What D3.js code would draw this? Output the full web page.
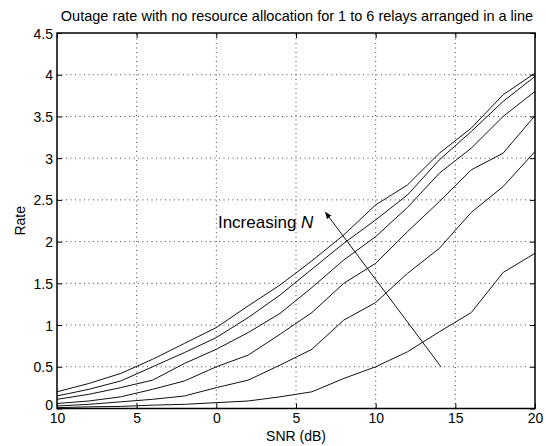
<!DOCTYPE html>
<html lang="en">
  <head>
    <meta charset="utf-8" />
    <title>Outage rate</title>
    <script type="text/javascript" src="https://cdn.jsdelivr.net/npm/d3@7"></script>
    <style type="text/css">
body { margin: 0; background: white; }
svg text { font-family: "Liberation Sans", Arial, sans-serif; fill: #000; }
    </style>
  </head>
  <body>
    <script type="text/javascript">
// SNR points (dB) and rate for N = 1..6 relays
var snr = [-10, -8, -6, -4, -2, 0, 2, 4, 6, 8, 10, 12, 14, 16, 18, 20];
var rateN1 = [0.01, 0.02, 0.025, 0.04, 0.05, 0.07, 0.09, 0.14, 0.20, 0.36, 0.50, 0.68, 0.92, 1.15, 1.63, 1.86];
var rateN2 = [0.03, 0.05, 0.08, 0.11, 0.15, 0.25, 0.34, 0.52, 0.71, 1.06, 1.27, 1.62, 1.92, 2.35, 2.66, 3.08];
var rateN3 = [0.06, 0.09, 0.14, 0.23, 0.33, 0.50, 0.64, 0.89, 1.15, 1.50, 1.74, 2.12, 2.48, 2.86, 3.06, 3.51];
var rateN4 = [0.11, 0.17, 0.25, 0.34, 0.54, 0.71, 0.91, 1.14, 1.45, 1.78, 2.06, 2.41, 2.82, 3.12, 3.50, 3.80];
var rateN5 = [0.15, 0.23, 0.33, 0.50, 0.67, 0.85, 1.09, 1.36, 1.67, 1.98, 2.26, 2.56, 2.98, 3.32, 3.68, 3.98];
var rateN6 = [0.20, 0.30, 0.42, 0.59, 0.78, 0.97, 1.23, 1.48, 1.77, 2.08, 2.44, 2.68, 3.06, 3.36, 3.76, 4.02];

var xTicks = [-10, -5, 0, 5, 10, 15, 20];
var xTickLabels = ["10", "5", "0", "5", "10", "15", "20"];
var yTicks = [0, 0.5, 1, 1.5, 2, 2.5, 3, 3.5, 4, 4.5];
var yTickLabels = ["0", "0.5", "1", "1.5", "2", "2.5", "3", "3.5", "4", "4.5"];

// annotation arrow: tail and head in data units
var arrowFrom = [14.1, 0.5];
var arrowTo = [6.85, 2.35];

var w = 546;
var h = 446;
var pad = { left: 57, right: 11, top: 33, bottom: 37.5 };

var series = [rateN1, rateN2, rateN3, rateN4, rateN5, rateN6];

var svg = d3.select("body")
            .append("svg")
            .attr("width", w)
            .attr("height", h);

var xScale = d3.scaleLinear()
               .domain([-10, 20])
               .range([pad.left, w - pad.right]);
var yScale = d3.scaleLinear()
               .domain([0, 4.5])
               .range([h - pad.bottom, pad.top]);

// dotted grid
var grid = svg.append("g").attr("id", "grid");
grid.selectAll("line.gx")
    .data(xTicks.slice(1, -1))
    .enter()
    .append("line")
    .attr("x1", function(d) { return xScale(d); })
    .attr("x2", function(d) { return xScale(d); })
    .attr("y1", yScale(0))
    .attr("y2", yScale(4.5))
    .attr("stroke", "#444")
    .attr("stroke-width", 1)
    .attr("stroke-dasharray", "1,3.5");
grid.selectAll("line.gy")
    .data(yTicks.slice(1, -1))
    .enter()
    .append("line")
    .attr("x1", xScale(-10))
    .attr("x2", xScale(20))
    .attr("y1", function(d) { return yScale(d); })
    .attr("y2", function(d) { return yScale(d); })
    .attr("stroke", "#444")
    .attr("stroke-width", 1)
    .attr("stroke-dasharray", "1,3.5");

// curves
var line = d3.line()
             .x(function(d, i) { return xScale(snr[i]); })
             .y(function(d) { return yScale(d); });
svg.append("g")
   .attr("id", "curves")
   .selectAll("path")
   .data(series)
   .enter()
   .append("path")
   .attr("d", line)
   .attr("fill", "none")
   .attr("stroke", "#111")
   .attr("stroke-width", 1);

// axes with inward ticks on all four sides
var tickLen = 5;
var xAxis = d3.axisBottom(xScale)
              .tickValues(xTicks)
              .tickSize(-tickLen)
              .tickPadding(5)
              .tickFormat(function(d, i) { return xTickLabels[i]; });
var yAxis = d3.axisLeft(yScale)
              .tickValues(yTicks)
              .tickSize(-tickLen)
              .tickPadding(4)
              .tickFormat(function(d, i) { return yTickLabels[i]; });

var gx = svg.append("g")
            .attr("transform", "translate(0," + yScale(0) + ")")
            .call(xAxis);
var gy = svg.append("g")
            .attr("transform", "translate(" + xScale(-10) + ",0)")
            .call(yAxis);
svg.append("g")
   .attr("transform", "translate(0," + yScale(4.5) + ")")
   .call(d3.axisTop(xScale).tickValues(xTicks).tickSize(-tickLen).tickFormat(""));
svg.append("g")
   .attr("transform", "translate(" + xScale(20) + ",0)")
   .call(d3.axisRight(yScale).tickValues(yTicks).tickSize(-tickLen).tickFormat(""));

svg.selectAll(".domain").attr("stroke", "none");
svg.selectAll(".tick line").attr("stroke", "#000").attr("stroke-width", 1);
gx.selectAll("text").attr("font-size", "14px");
gy.selectAll("text")
  .attr("font-size", "14px")
  .attr("dy", function(d) { return d === 0 ? "0.1em" : "0.36em"; });

// frame
svg.append("rect")
   .attr("x", xScale(-10))
   .attr("y", yScale(4.5))
   .attr("width", xScale(20) - xScale(-10))
   .attr("height", yScale(0) - yScale(4.5))
   .attr("fill", "none")
   .attr("stroke", "#000")
   .attr("stroke-width", 1.5);

// arrow annotation
svg.append("defs")
   .append("marker")
   .attr("id", "head")
   .attr("viewBox", "0 0 10 10")
   .attr("refX", 9)
   .attr("refY", 5)
   .attr("markerWidth", 7)
   .attr("markerHeight", 7)
   .attr("markerUnits", "userSpaceOnUse")
   .attr("orient", "auto")
   .append("path")
   .attr("d", "M0,1 L10,5 L0,9 Z")
   .attr("fill", "#000");
svg.append("line")
   .attr("x1", xScale(arrowFrom[0]))
   .attr("y1", yScale(arrowFrom[1]))
   .attr("x2", xScale(arrowTo[0]))
   .attr("y2", yScale(arrowTo[1]))
   .attr("stroke", "#111")
   .attr("stroke-width", 1)
   .attr("marker-end", "url(#head)");

var note = svg.append("text")
              .attr("x", xScale(0.1))
              .attr("y", yScale(2.16))
              .attr("font-size", "17px");
note.append("tspan").text("Increasing ");
note.append("tspan").attr("font-style", "italic").text("N");

// labels
svg.append("text")
   .attr("x", (xScale(-10) + xScale(20)) / 2 + 1)
   .attr("y", 21)
   .attr("text-anchor", "middle")
   .attr("font-size", "14.5px")
   .text("Outage rate with no resource allocation for 1 to 6 relays arranged in a line");
svg.append("text")
   .attr("x", (xScale(-10) + xScale(20)) / 2)
   .attr("y", 441)
   .attr("text-anchor", "middle")
   .attr("font-size", "14px")
   .text("SNR (dB)");
svg.append("text")
   .attr("transform", "translate(25," + yScale(2.25) + ") rotate(-90)")
   .attr("text-anchor", "middle")
   .attr("font-size", "14px")
   .text("Rate");
    </script>
  </body>
</html>
